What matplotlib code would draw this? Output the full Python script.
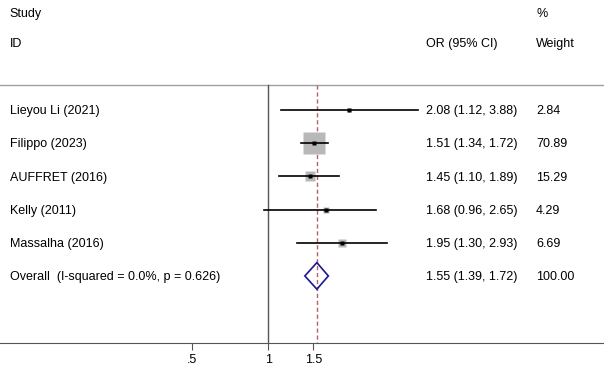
import numpy as np
import matplotlib.pyplot as plt

studies = ["Lieyou Li (2021)", "Filippo (2023)", "AUFFRET (2016)", "Kelly (2011)", "Massalha (2016)"]
odds = [2.08, 1.51, 1.45, 1.68, 1.95]
lower = [1.12, 1.34, 1.10, 0.96, 1.30]
upper = [3.88, 1.72, 1.89, 2.65, 2.93]
weights = [2.84, 70.89, 15.29, 4.29, 6.69]
overall_label = "Overall  (I-squared = 0.0%, p = 0.626)"
overall = (1.55, 1.39, 1.72)
xticks = [0.5, 1, 1.5]
xticklabels = [".5", "1", "1.5"]

plt.rcParams["font.family"] = ["Liberation Sans", "DejaVu Sans"]
plt.rcParams["font.size"] = 9

fig = plt.figure(figsize=(6.04, 3.69), dpi=100)
ax = fig.add_axes([0, 26 / 369, 1, 343 / 369])
ax.set_xscale("log")
ax.set_xlim(0.0878, 20.9)
ax.set_ylim(8.02, -2.31)

rows = np.arange(1, len(studies) + 1)
txt_x, or_x, w_x = 0.096, 4.16, 11.3

# header
ax.text(txt_x, -1.9, "Study", va="center", ha="left")
ax.text(txt_x, -0.98, "ID", va="center", ha="left")
ax.text(or_x, -0.98, "OR (95% CI)", va="center", ha="left")
ax.text(w_x, -1.9, "%", va="center", ha="left")
ax.text(w_x, -0.98, "Weight", va="center", ha="left")
ax.axhline(0.25, color="#a0a0a0", lw=1)

# reference lines
ax.plot([1, 1], [0.25, 8.02], color="#555555", lw=1)
ax.plot([overall[0]] * 2, [0.25, 8.02], color="#b8606a", lw=1, ls=(0, (3, 2)))

for y, name, o, lo, hi, w in zip(rows, studies, odds, lower, upper, weights):
    size = np.sqrt(w) * 2.73 * 0.72
    ax.plot(o, y, marker="s", ms=size, color="#b8b8b8", mec="none", zorder=2)
    ax.plot([lo, hi], [y, y], color="black", lw=1.2, zorder=3)
    ax.plot(o, y, marker="s", ms=2.7, color="black", mec="none", zorder=4)
    ax.text(txt_x, y + 0.04, name, va="center", ha="left")
    ax.text(or_x, y + 0.04, f"{o:.2f} ({lo:.2f}, {hi:.2f})", va="center", ha="left")
    ax.text(w_x, y + 0.04, f"{w:.2f}", va="center", ha="left")

# overall diamond
oy = len(studies) + 1
est, lo, hi = overall
ax.fill([lo, est, hi, est, lo], [oy, oy - 0.4, oy, oy + 0.4, oy],
        facecolor="none", edgecolor="#1a1a8c", lw=1.2, zorder=4)
ax.text(txt_x, oy + 0.04, overall_label, va="center", ha="left")
ax.text(or_x, oy + 0.04, f"{est:.2f} ({lo:.2f}, {hi:.2f})", va="center", ha="left")
ax.text(w_x, oy + 0.04, "100.00", va="center", ha="left")

for s in ["top", "left", "right"]:
    ax.spines[s].set_visible(False)
ax.spines["bottom"].set_color("#555555")
ax.set_yticks([])
ax.set_xticks(xticks)
ax.set_xticklabels(xticklabels)
ax.xaxis.set_minor_locator(plt.NullLocator())
ax.tick_params(axis="x", length=5, color="#555555", pad=3)

fig.savefig("out.png", dpi=100)
